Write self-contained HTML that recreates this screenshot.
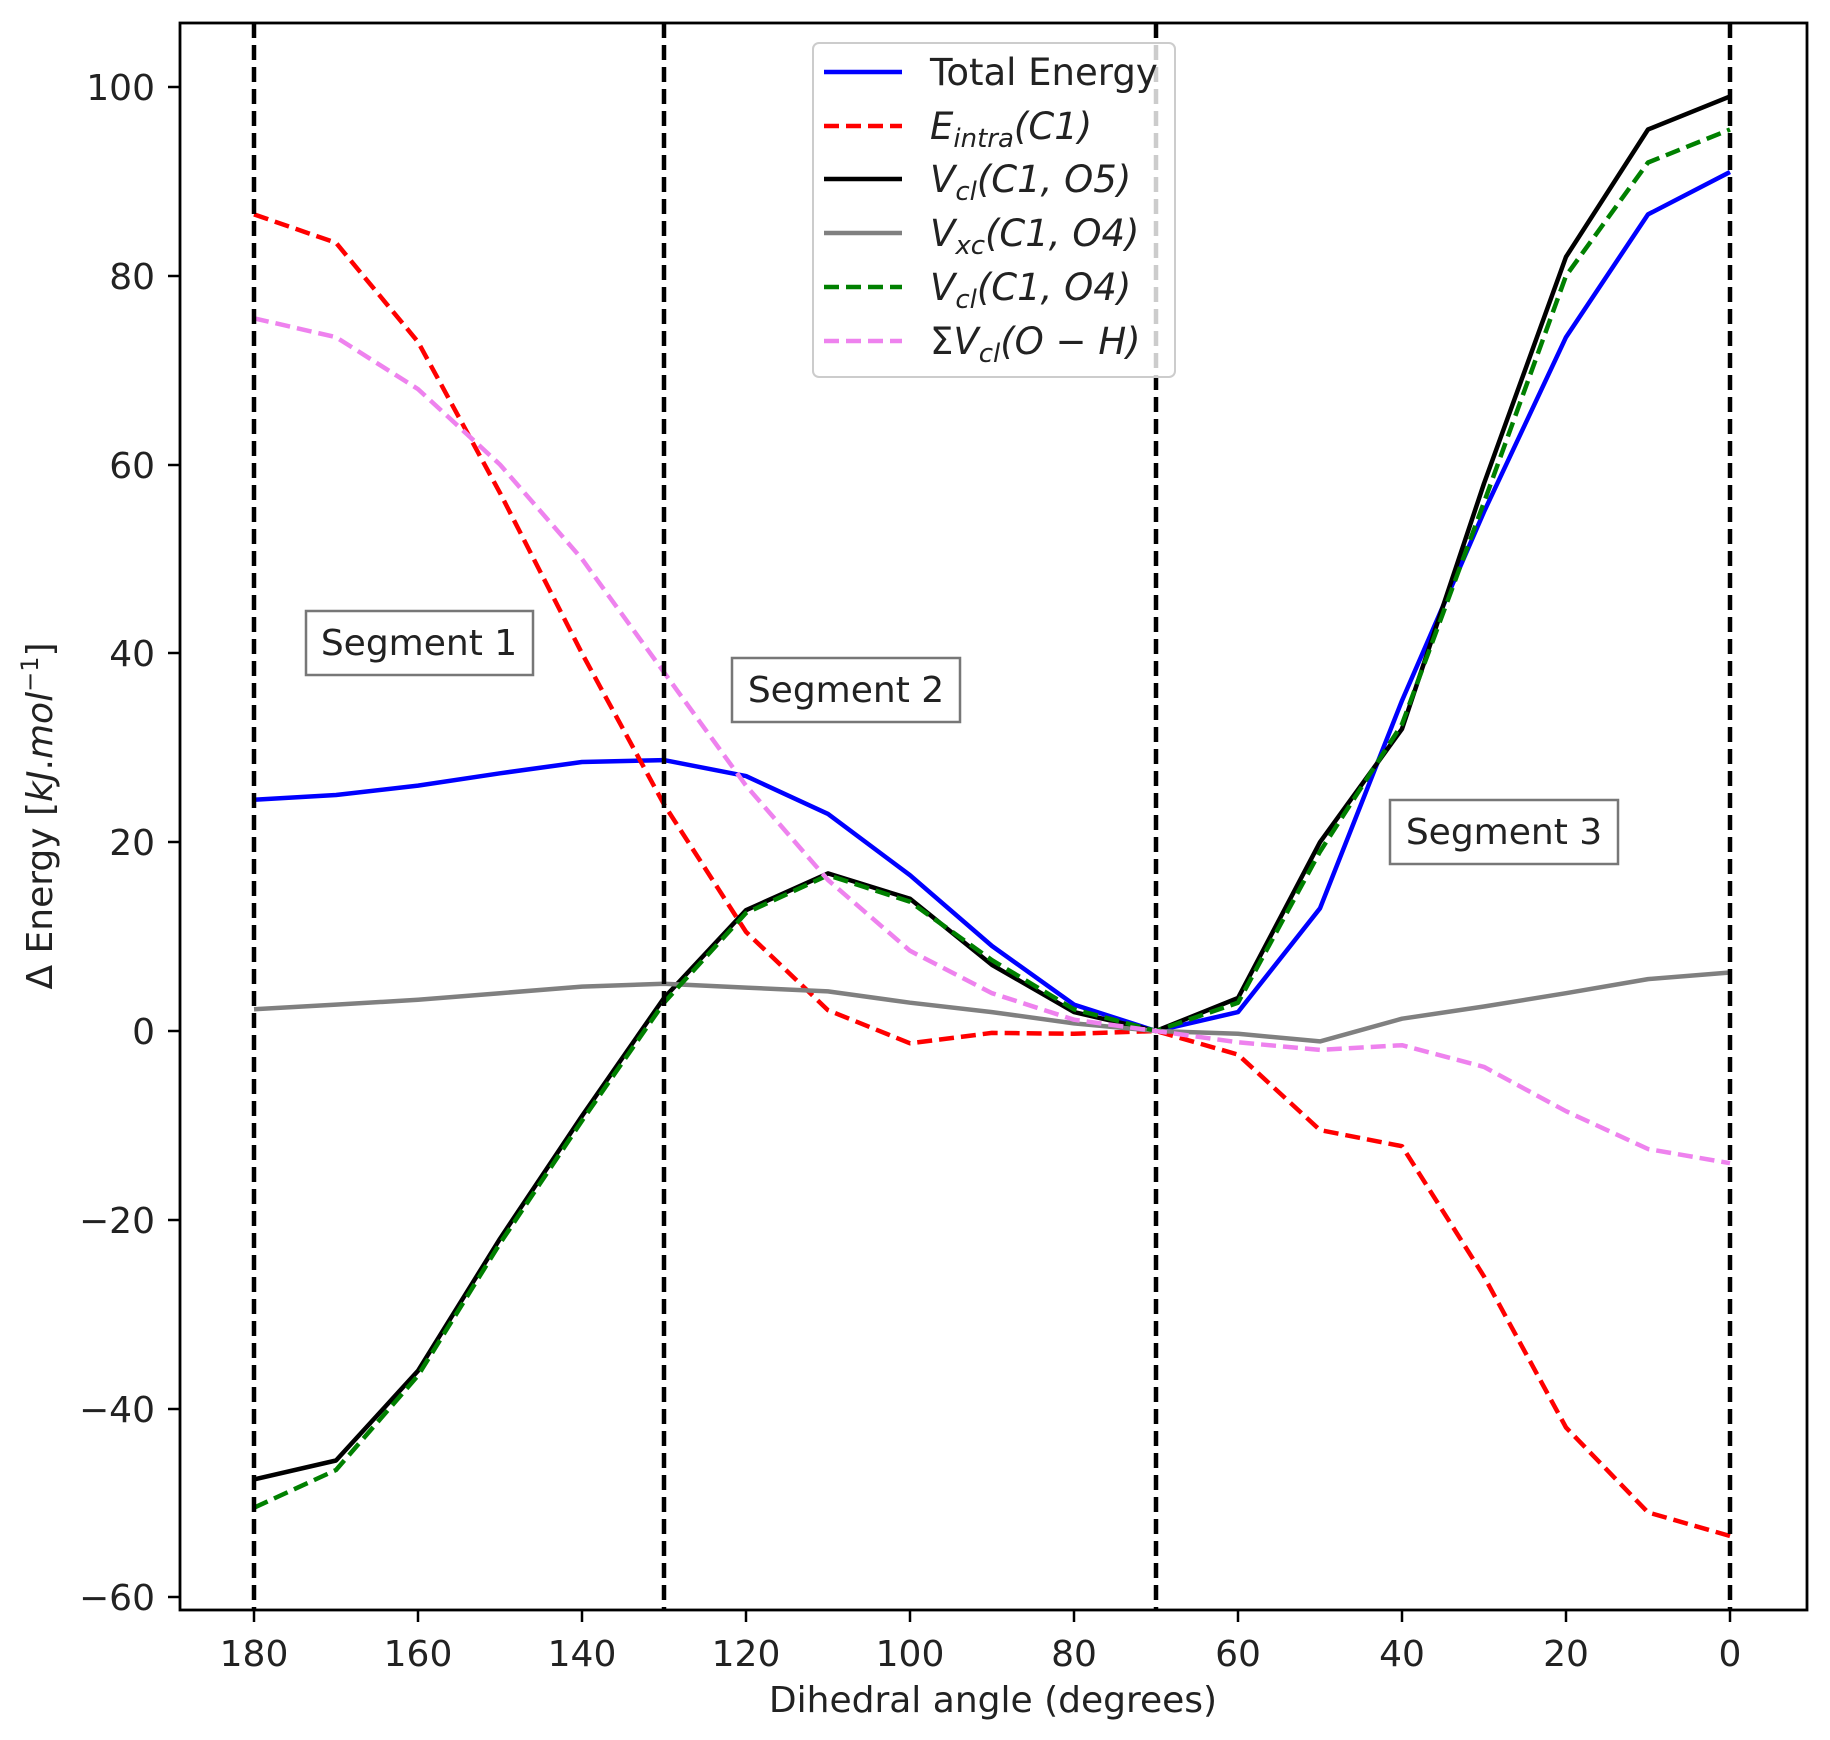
<!DOCTYPE html>
<html><head><meta charset="utf-8">
<style>
html,body{margin:0;padding:0;background:#fff;}
svg{display:block;font-family:"DejaVu Sans","Liberation Sans",sans-serif;}
</style></head>
<body>
<svg id="s" width="1830" height="1740" viewBox="0 0 1830 1740" xmlns="http://www.w3.org/2000/svg">
<rect x="0" y="0" width="1830" height="1740" fill="#fff"/>
<g id="lines"></g>
<rect x="180" y="23" width="1627" height="1587" fill="none" stroke="#000" stroke-width="2.8"/>
<g stroke="#000" stroke-width="2.5">
<line x1="168" y1="87" x2="180" y2="87"/>
<line x1="168" y1="276" x2="180" y2="276"/>
<line x1="168" y1="465" x2="180" y2="465"/>
<line x1="168" y1="653" x2="180" y2="653"/>
<line x1="168" y1="842" x2="180" y2="842"/>
<line x1="168" y1="1031" x2="180" y2="1031"/>
<line x1="168" y1="1220" x2="180" y2="1220"/>
<line x1="168" y1="1409" x2="180" y2="1409"/>
<line x1="168" y1="1597" x2="180" y2="1597"/>
<line x1="254" y1="1610" x2="254" y2="1622"/>
<line x1="418" y1="1610" x2="418" y2="1622"/>
<line x1="582" y1="1610" x2="582" y2="1622"/>
<line x1="746" y1="1610" x2="746" y2="1622"/>
<line x1="910" y1="1610" x2="910" y2="1622"/>
<line x1="1074" y1="1610" x2="1074" y2="1622"/>
<line x1="1238" y1="1610" x2="1238" y2="1622"/>
<line x1="1402" y1="1610" x2="1402" y2="1622"/>
<line x1="1566" y1="1610" x2="1566" y2="1622"/>
<line x1="1730" y1="1610" x2="1730" y2="1622"/>
</g>
<g font-size="36" fill="#222" text-anchor="end">
<text x="155" y="100">100</text>
<text x="155" y="289">80</text>
<text x="155" y="478">60</text>
<text x="155" y="666">40</text>
<text x="155" y="855">20</text>
<text x="155" y="1044">0</text>
<text x="155" y="1233">−20</text>
<text x="155" y="1422">−40</text>
<text x="155" y="1610">−60</text>
</g>
<g font-size="36" fill="#222" text-anchor="middle">
<text x="254" y="1666">180</text>
<text x="418" y="1666">160</text>
<text x="582" y="1666">140</text>
<text x="746" y="1666">120</text>
<text x="910" y="1666">100</text>
<text x="1074" y="1666">80</text>
<text x="1238" y="1666">60</text>
<text x="1402" y="1666">40</text>
<text x="1566" y="1666">20</text>
<text x="1730" y="1666">0</text>
<text x="993" y="1712">Dihedral angle (degrees)</text>
</g>
<text transform="translate(52,816) rotate(-90)" font-size="36" fill="#222" text-anchor="middle">Δ Energy [<tspan font-style="italic">kJ</tspan>.<tspan font-style="italic">mol</tspan><tspan font-size="24" dy="-14">−1</tspan><tspan dy="14">]</tspan></text>
<g font-size="36" fill="#222">
<rect x="306" y="611" width="227" height="64" fill="#fff" stroke="#777" stroke-width="2.5"/>
<text x="419" y="655" text-anchor="middle">Segment 1</text>
<rect x="732" y="658" width="228" height="64" fill="#fff" stroke="#777" stroke-width="2.5"/>
<text x="846" y="702" text-anchor="middle">Segment 2</text>
<rect x="1390" y="800" width="228" height="64" fill="#fff" stroke="#777" stroke-width="2.5"/>
<text x="1504" y="844" text-anchor="middle">Segment 3</text>
</g>
<rect x="813" y="43" width="362" height="334" rx="6" fill="#fff" fill-opacity="0.8" stroke="#ccc" stroke-width="2"/>
<g stroke-width="4.5">
<line x1="824" y1="72" x2="902" y2="72" stroke="#0000ff"/>
<line x1="824" y1="126" x2="902" y2="126" stroke="#ff0000" stroke-dasharray="15,7"/>
<line x1="824" y1="179" x2="902" y2="179" stroke="#000"/>
<line x1="824" y1="233" x2="902" y2="233" stroke="#808080"/>
<line x1="824" y1="287" x2="902" y2="287" stroke="#008000" stroke-dasharray="15,7"/>
<line x1="824" y1="341" x2="902" y2="341" stroke="#ee82ee" stroke-dasharray="15,7"/>
</g>
<g font-size="37" fill="#222">
<text x="930" y="85">Total Energy</text>
<text x="930" y="139" font-style="italic">E<tspan font-size="26" dy="8">intra</tspan><tspan dy="-8">(C1)</tspan></text>
<text x="930" y="192" font-style="italic">V<tspan font-size="26" dy="8">cl</tspan><tspan dy="-8">(C1, O5)</tspan></text>
<text x="930" y="246" font-style="italic">V<tspan font-size="26" dy="8">xc</tspan><tspan dy="-8">(C1, O4)</tspan></text>
<text x="930" y="300" font-style="italic">V<tspan font-size="26" dy="8">cl</tspan><tspan dy="-8">(C1, O4)</tspan></text>
<text x="930" y="354" font-style="italic"><tspan font-style="normal">Σ</tspan>V<tspan font-size="26" dy="8">cl</tspan><tspan dy="-8">(O − H)</tspan></text>
</g>
</svg>
<script>
(function(){
var X=function(d){return 1730-d*8.2;}, Y=function(v){return 1031-9.44*v;};
var degs=[180,170,160,150,140,130,120,110,100,90,80,70,60,50,40,30,20,10,0];
var S=[
["#0000ff","",[24.5,25,26,27.3,28.5,28.7,27,23,16.5,9,2.8,0,2,13,35,55,73.5,86.5,91]],
["#ff0000","15,7",[86.5,83.5,73,57,40,24,10.5,2.2,-1.3,-0.2,-0.3,0,-2.5,-10.5,-12.2,-26,-42,-51,-53.5]],
["#000000","",[-47.5,-45.5,-36,-22,-9,3.5,12.8,16.7,14,7,2,0,3.5,20,32,58,82,95.5,99]],
["#808080","",[2.3,2.8,3.3,4,4.7,5,4.6,4.2,3,2,0.8,0,-0.3,-1.1,1.3,2.6,4,5.5,6.2]],
["#008000","15,7",[-50.5,-46.5,-36.5,-22.5,-9.5,3,12.5,16.5,13.7,7.5,2.3,0,3,19,32.5,56,80,92,95.5]],
["#ee82ee","15,7",[75.5,73.5,68,60,50,38,26,16,8.5,4,1.2,0,-1.2,-2,-1.5,-3.8,-8.5,-12.5,-14]]
];
var g=document.getElementById('lines'),h="";
S.forEach(function(s){
 var p=s[2].map(function(v,i){return X(degs[i]).toFixed(1)+","+Y(v).toFixed(1);}).join(" ");
 h+='<polyline points="'+p+'" fill="none" stroke="'+s[0]+'" stroke-width="4.5" stroke-linejoin="round"'+(s[1]?' stroke-dasharray="'+s[1]+'"':'')+'/>';
});
[180,130,70,0].forEach(function(d){h+='<line x1="'+X(d)+'" y1="23" x2="'+X(d)+'" y2="1610" stroke="#000" stroke-width="4.5" stroke-dasharray="15,7"/>';});
g.innerHTML=h;
})();
</script>
</body></html>
